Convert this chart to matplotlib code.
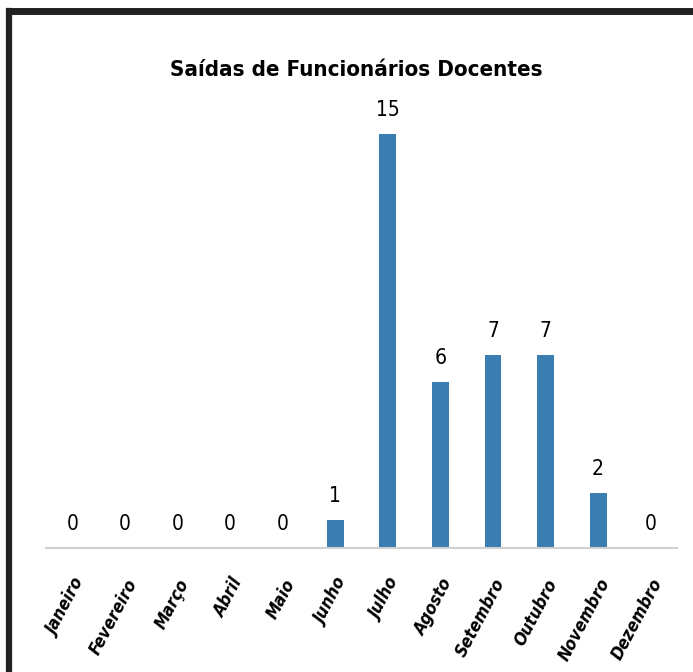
import matplotlib.pyplot as plt
from matplotlib.lines import Line2D

# dados do grafico
meses = ["Janeiro", "Fevereiro", "Março", "Abril", "Maio", "Junho",
         "Julho", "Agosto", "Setembro", "Outubro", "Novembro", "Dezembro"]
saidas = [0, 0, 0, 0, 0, 1, 15, 6, 7, 7, 2, 0]

W, H = 693, 672

fig = plt.figure(figsize=(W / 100, H / 100), dpi=100)
fig.patch.set_facecolor("white")

# eixo: linha base em y=548 px, categorias de x=46 a 677 px
ax = fig.add_axes([46 / W, 1 - 548 / H, (677 - 46) / W, (548 - 106) / H])
x = list(range(len(meses)))
ax.bar(x, saidas, width=0.32, color="#3a7db0")
ax.set_xlim(-0.5, 11.5)
ax.set_ylim(0, 16)

for i, v in enumerate(saidas):
    ax.annotate(str(v), (i, v), xytext=(0, 10), textcoords="offset points",
                ha="center", va="bottom", fontsize=15, family="DejaVu Sans",
                fontstretch="condensed")

for s in ["top", "right", "left"]:
    ax.spines[s].set_visible(False)
ax.spines["bottom"].set_color("#d0d0d0")
ax.spines["bottom"].set_linewidth(1.5)
ax.set_yticks([])
ax.set_xticks(x)
ax.set_xticklabels(meses, rotation=62, ha="right", rotation_mode="anchor",
                   fontsize=12.5, fontweight="bold", fontstyle="italic",
                   family="DejaVu Sans", fontstretch="condensed")
ax.tick_params(axis="x", length=0, pad=20)

fig.text(356 / W, 1 - 70 / H, "Saídas de Funcionários Docentes",
         ha="center", va="center", fontsize=16, fontweight="bold",
         family="DejaVu Sans", fontstretch="condensed")

# moldura digitalizada (so topo e esquerda visiveis)
fig.add_artist(Line2D([9 / W, 1], [1 - 11 / H, 1 - 11 / H], color="#222222", lw=5))
fig.add_artist(Line2D([9 / W, 9 / W], [0, 1 - 11 / H], color="#222222", lw=4.5))

fig.savefig("out.png", dpi=100)
